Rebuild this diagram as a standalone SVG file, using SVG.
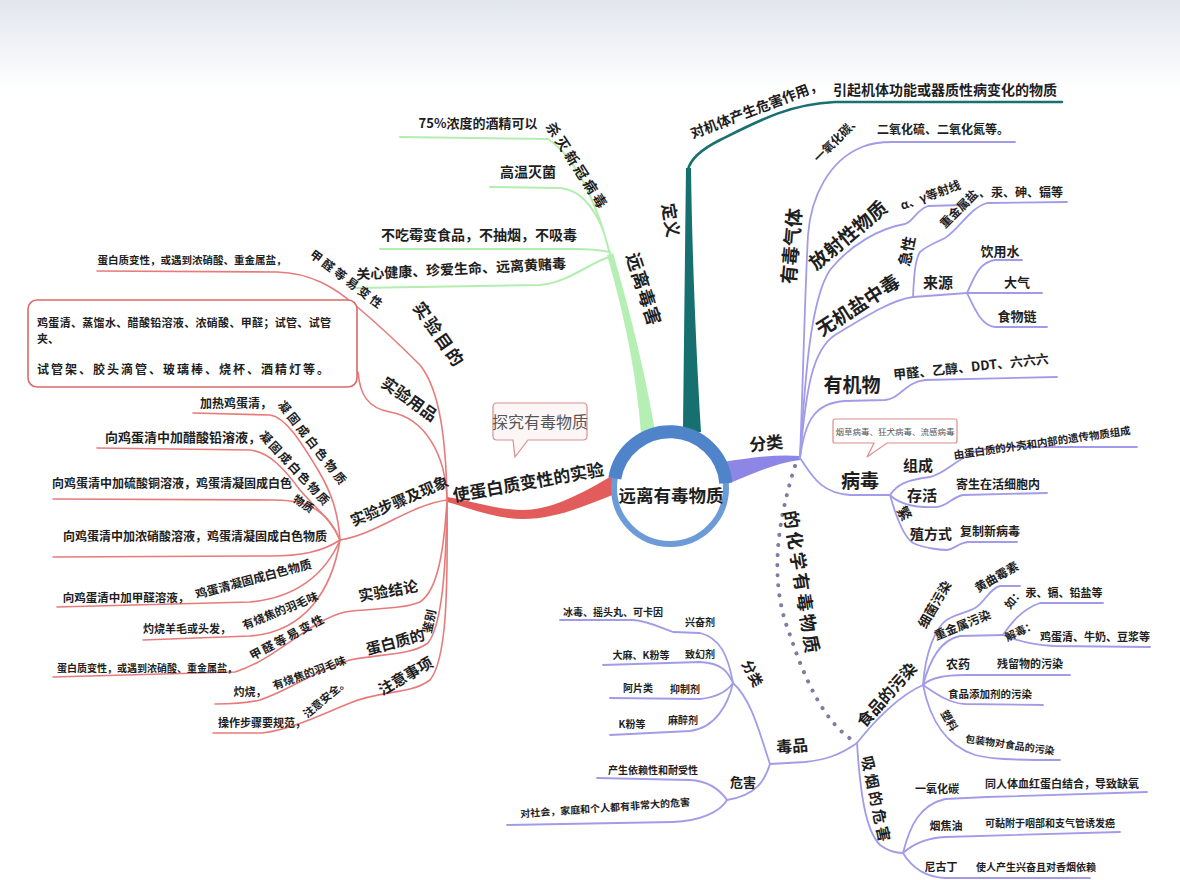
<svg xmlns="http://www.w3.org/2000/svg" width="1180" height="880" viewBox="0 0 1180 880">
<defs>
<linearGradient id="bg" x1="0" y1="0" x2="0" y2="1">
<stop offset="0" stop-color="#e2e6ed"/><stop offset="0.6" stop-color="#f3f5f8"/><stop offset="1" stop-color="#ffffff"/>
</linearGradient>
<style>
.t{font-family:"Noto Sans CJK SC","Noto Sans",sans-serif;font-weight:700;fill:#1e1e1e;text-anchor:middle;dominant-baseline:central}
.l{text-anchor:start}
.n{font-weight:400;fill:#555}
.cg{fill:none;stroke:#b2eeb0;stroke-width:2;stroke-linecap:round}
.ct{fill:none;stroke:#1a7070;stroke-width:2.6;stroke-linecap:round}
.cp{fill:none;stroke:#a29ce8;stroke-width:1.8;stroke-linecap:round}
.cr{fill:none;stroke:#e77b7b;stroke-width:1.6;stroke-linecap:round}
.cd{fill:none;stroke:#7d7da3;stroke-width:4;stroke-linecap:round;stroke-dasharray:0.1 10}
.bub{fill:#fdf6f6;stroke:#d89090;stroke-width:1.2}
</style>
</defs>
<rect width="1180" height="880" fill="#ffffff"/>
<rect width="1180" height="90" fill="url(#bg)"/>

<g id="connectors">
 <path d="M641,433 C637,380 626,320 607,255 L613,253 C632,318 646,378 655,431 Z" fill="#b5efb3"/>
 <path d="M683,434 C684,350 685,250 686,168 L691,168 C692,250 696,350 701,432 Z" fill="#167070"/>
 <path d="M723,462 C750,458 775,454 800,456 L800,460 C775,463 750,475 725,485 Z" fill="#8e86e6"/>
 <path d="M613,475 C580,495 550,510 523,510 C495,510 470,500 447,497 L447,502 C470,508 495,519 523,519 C555,519 585,506 615,494 Z" fill="#e25c5c"/>

 <path class="cg" d="M610,254 C600,215 580,160 548,139 L400,137"/>
 <path class="cg" d="M603,229 C592,205 580,190 560,188 L490,187"/>
 <path class="cg" d="M610,252 C600,250 590,249 575,249 L380,249"/>
 <path class="cg" d="M612,256 C590,262 570,282 540,285 L356,288"/>

 <path class="ct" d="M688,170 C690,160 700,150 720,140 C760,120 790,104 835,102 L1062,102"/>

 <path class="cp" d="M800,458 C803,380 805,290 808,235 C811,195 830,160 862,147 C872,143 880,142 892,142 L1015,142"/>
 <path class="cp" d="M800,458 C805,380 810,300 830,270 C850,245 880,228 905,224 C913,222 916,210 928,206 L962,205"/>
 <path class="cp" d="M800,458 C806,390 812,350 835,335 C860,320 890,300 913,297 L967,293"/>
 <path class="cp" d="M913,297 C914,275 915,260 920,252 C928,245 935,243 945,238 C960,228 970,208 987,203 L1067,202"/>
 <path class="cp" d="M967,293 C975,275 980,262 995,260 L1022,260"/>
 <path class="cp" d="M967,293 L1042,293"/>
 <path class="cp" d="M967,293 C975,310 982,326 995,327 L1047,327"/>
 <path class="cp" d="M800,458 C805,420 815,403 845,401 L885,400 C900,399 905,382 925,380 L1057,377"/>
 <path class="cp" d="M800,458 C812,475 820,493 850,495 L890,495"/>
 <path class="cp" d="M890,495 C897,485 905,480 930,477 C945,474 955,460 975,452 C990,447 1000,447 1013,447 L1137,447"/>
 <path class="cp" d="M890,495 C900,505 915,508 937,507 C948,506 952,497 963,495 L1047,493"/>
 <path class="cp" d="M890,495 C897,520 905,540 915,544 C925,548 940,550 947,550 C955,549 958,543 968,542 L1017,542"/>

 <path class="cd" d="M795,466 C778,520 768,580 790,635 C805,680 825,725 857,743"/>
 <path class="cp" d="M857,743 C840,755 825,760 805,762 L770,764"/>
 <path class="cp" d="M857,743 C875,720 900,695 923,685"/>
 <path class="cp" d="M857,743 C860,790 865,830 880,845 C888,851 895,853 903,853"/>
 <path class="cp" d="M770,764 C760,735 752,700 733,683"/>
 <path class="cp" d="M770,764 C765,780 757,795 727,800"/>
 <path class="cp" d="M733,683 C728,655 720,638 700,633 L673,632 C665,630 650,621 633,620 L560,620"/>
 <path class="cp" d="M733,683 C728,672 722,663 700,662 L603,665"/>
 <path class="cp" d="M733,683 C728,690 720,697 700,699 L610,698"/>
 <path class="cp" d="M733,683 C728,705 715,728 690,731 L610,735"/>
 <path class="cp" d="M727,800 C720,790 710,781 690,780 L597,778"/>
 <path class="cp" d="M727,800 C720,812 700,821 673,822 L507,825"/>
 <path class="cp" d="M923,685 C925,655 935,625 950,618 C960,613 968,612 975,608 C985,602 990,588 1000,586 L1020,586"/>
 <path class="cp" d="M923,685 C930,660 940,640 960,636 L1003,635"/>
 <path class="cp" d="M1003,635 C1010,625 1020,610 1040,603 L1103,603"/>
 <path class="cp" d="M1003,635 C1015,640 1035,645 1053,646 L1150,647"/>
 <path class="cp" d="M923,685 C930,678 945,675 965,675 L1070,675"/>
 <path class="cp" d="M923,685 C935,693 948,703 965,704 L1043,705"/>
 <path class="cp" d="M923,685 C930,720 945,745 975,755 C990,759 1010,760 1060,760"/>
 <path class="cp" d="M903,853 C910,825 920,805 945,799 L987,797 L1147,792"/>
 <path class="cp" d="M903,853 C912,845 925,838 945,837 L1120,832"/>
 <path class="cp" d="M903,853 C912,868 925,877 945,878 L1090,878"/>

 <path class="cr" d="M447,500 C446,440 440,390 420,365 C405,350 380,326 355,305 C335,288 312,273 277,272 L97,271"/>
 <path class="cr" d="M447,500 C446,455 425,418 390,412 C368,408 360,395 358,372"/>
 <path class="cr" d="M447,500 C410,505 375,535 340,540"/>
 <path class="cr" d="M340,540 C338,510 330,490 318,470 C300,440 285,417 270,415 L193,413"/>
 <path class="cr" d="M340,540 C332,520 315,508 300,490 C285,470 270,452 250,450 L97,448"/>
 <path class="cr" d="M340,540 C330,515 312,500 275,500 L53,499"/>
 <path class="cr" d="M340,540 C322,552 300,556 270,556 L53,557"/>
 <path class="cr" d="M340,540 C325,575 295,598 250,602 L57,607"/>
 <path class="cr" d="M340,540 C332,590 305,632 250,636 L143,640"/>
 <path class="cr" d="M447,500 C444,550 438,590 420,602 C400,610 370,608 345,612 C310,620 275,660 235,672 L53,677"/>
 <path class="cr" d="M447,500 C446,570 442,625 428,643 C412,655 380,654 350,660 C320,668 290,690 260,700 C245,704 230,704 215,704"/>
 <path class="cr" d="M447,500 C448,600 446,660 430,680 C410,695 380,690 350,703 C320,715 290,730 262,733 L213,733"/>
</g>

<g id="center">
 <circle cx="670" cy="488" r="56" fill="#ffffff" stroke="#6c9bd8" stroke-width="6"/>
 <path d="M614.8,478.3 A56,56 0 0 1 725.8,483.1" fill="none" stroke="#4f84cb" stroke-width="13"/>
 <text class="t" font-size="17.5" x="671" y="494">远离有毒物质</text>
</g>

<g id="n-green">
 <text class="t" font-size="18" letter-spacing="1" transform="translate(645 289) rotate(72)">远离毒害</text>
 <text class="t" font-size="13" x="478" y="122">75%浓度的酒精可以</text>
 <text class="t" font-size="14" letter-spacing="3" transform="translate(578 166) rotate(57)">杀灭新冠病毒</text>
 <text class="t" font-size="14" x="528" y="171">高温灭菌</text>
 <text class="t" font-size="14" x="479" y="234">不吃霉变食品，不抽烟，不吸毒</text>
 <text class="t" font-size="14" transform="translate(461 268) rotate(-3)">关心健康、珍爱生命、远离黄赌毒</text>
</g>

<g id="n-definition">
 <text class="t" font-size="17" transform="translate(672 220) rotate(80)">定义</text>
 <text class="t" font-size="14" transform="translate(756 108) rotate(-21)">对机体产生危害作用，</text>
 <text class="t" font-size="14" x="945" y="89">引起机体功能或器质性病变化的物质</text>
</g>

<g id="n-classify">
 <text class="t" font-size="17" transform="translate(766 442) rotate(-6)">分类</text>
 <g id="n-gas">
  <text class="t" font-size="19" transform="translate(790 246) rotate(-85)">有毒气体</text>
  <text class="t" font-size="12" transform="translate(836 138) rotate(-45)">一氧化碳、</text>
  <text class="t" font-size="12" x="943" y="128">二氧化硫、二氧化氮等。</text>
 </g>
 <g id="n-radio">
  <text class="t" font-size="19" transform="translate(847 234) rotate(-40)">放射性物质</text>
  <text class="t" font-size="12" transform="translate(930 194) rotate(-20)">α、γ等射线</text>
 </g>
 <g id="n-inorganic">
  <text class="t" font-size="19" transform="translate(857 304) rotate(-33)">无机盐中毒</text>
  <text class="t" font-size="15" transform="translate(906 251) rotate(-78)">急性</text>
  <text class="t" font-size="12" transform="translate(958 208) rotate(-45)">重金属盐</text>
  <text class="t" font-size="12" x="1021" y="191">、汞、砷、镉等</text>
  <text class="t" font-size="15" x="938" y="281">来源</text>
  <text class="t" font-size="13" x="1000" y="250">饮用水</text>
  <text class="t" font-size="13" x="1017" y="281">大气</text>
  <text class="t" font-size="13" x="1017" y="315">食物链</text>
 </g>
 <g id="n-organic">
  <text class="t" font-size="19" x="852" y="383">有机物</text>
  <text class="t" font-size="13" transform="translate(971 366) rotate(-6)">甲醛、乙醇、DDT、六六六</text>
 </g>
 <g id="n-virus">
  <path d="M835,419 H955 Q957,419 957,421 V441 Q957,443 955,443 H887 L867,457 L874,443 H835 Q833,443 833,441 V421 Q833,419 835,419 Z" fill="#ffffff" stroke="#e08c8c" stroke-width="1.2"/>
  <text class="t n" font-size="8.5" x="895" y="431">烟草病毒、狂犬病毒、流感病毒</text>
  <text class="t" font-size="19" x="860" y="479">病毒</text>
  <text class="t" font-size="15" x="918" y="464">组成</text>
  <text class="t" font-size="10.5" transform="translate(1042 442) rotate(-8)">由蛋白质的外壳和内部的遗传物质组成</text>
  <text class="t" font-size="15" x="922" y="494">存活</text>
  <text class="t" font-size="12" x="998" y="483">寄生在活细胞内</text>
  <text class="t" font-size="14" transform="translate(905 513) rotate(60)">繁</text>
  <text class="t" font-size="14" x="931" y="533">殖方式</text>
  <text class="t" font-size="12" x="990" y="530">复制新病毒</text>
 </g>
</g>

<g id="n-common">
 <text class="t" font-size="18" letter-spacing="3" transform="translate(803 583) rotate(81)">的化学有毒物质</text>
 <g id="n-drugs">
  <text class="t" font-size="16" transform="translate(792 745) rotate(-5)">毒品</text>
  <text class="t" font-size="14" transform="translate(753 673) rotate(62)">分类</text>
  <text class="t" font-size="10" x="613" y="611">冰毒、摇头丸、可卡因</text>
  <text class="t" font-size="10" x="700" y="621">兴奋剂</text>
  <text class="t" font-size="10" x="641" y="654">大麻、K粉等</text>
  <text class="t" font-size="10" x="700" y="653">致幻剂</text>
  <text class="t" font-size="10" x="638" y="687">阿片类</text>
  <text class="t" font-size="10" x="685" y="688">抑制剂</text>
  <text class="t" font-size="10" x="632" y="723">K粉等</text>
  <text class="t" font-size="10" x="683" y="719">麻醉剂</text>
  <text class="t" font-size="13" x="743" y="781">危害</text>
  <text class="t" font-size="10" x="653" y="769">产生依赖性和耐受性</text>
  <text class="t" font-size="10" transform="translate(605 807) rotate(-4)">对社会，家庭和个人都有非常大的危害</text>
 </g>
 <g id="n-food">
  <text class="t" font-size="16" transform="translate(886 694) rotate(-48)">食品的污染</text>
  <text class="t" font-size="13" transform="translate(934 604) rotate(-60)">细菌污染</text>
  <text class="t" font-size="12" transform="translate(996 576) rotate(-30)">黄曲霉素</text>
  <text class="t" font-size="12" transform="translate(962 624) rotate(-22)">重金属污染</text>
  <text class="t" font-size="11" transform="translate(1013 598) rotate(-50)">如：</text>
  <text class="t" font-size="11" x="1064" y="592">汞、镉、铅盐等</text>
  <text class="t" font-size="11" transform="translate(1020 630) rotate(-25)">解毒：</text>
  <text class="t" font-size="11" x="1095" y="636">鸡蛋清、牛奶、豆浆等</text>
  <text class="t" font-size="12" x="958" y="663">农药</text>
  <text class="t" font-size="11" x="1030" y="663">残留物的污染</text>
  <text class="t" font-size="10.5" x="990" y="693">食品添加剂的污染</text>
  <text class="t" font-size="11" transform="translate(950 720) rotate(60)">塑料</text>
  <text class="t" font-size="10" transform="translate(1010 744) rotate(8)">包装物对食品的污染</text>
 </g>
 <g id="n-smoke">
  <text class="t" font-size="15" letter-spacing="3" transform="translate(877 800) rotate(78)">吸烟的危害</text>
  <text class="t" font-size="11" x="937" y="788">一氧化碳</text>
  <text class="t" font-size="11" x="1062" y="783">同人体血红蛋白结合，导致缺氧</text>
  <text class="t" font-size="11" x="946" y="825">烟焦油</text>
  <text class="t" font-size="10" x="1050" y="822">可黏附于咽部和支气管诱发癌</text>
  <text class="t" font-size="11" x="941" y="866">尼古丁</text>
  <text class="t" font-size="10" x="1036" y="866">使人产生兴奋且对香烟依赖</text>
 </g>
</g>

<g id="n-experiment">
 <text class="t" font-size="17" transform="translate(528 481) rotate(-10)">使蛋白质变性的实验</text>
 <path class="bub" d="M497,403 H583 Q587,403 587,407 V436 Q587,440 583,440 H528 L515,457 L513,440 H497 Q493,440 493,436 V407 Q493,403 497,403 Z"/>
 <text class="t n" font-size="16" x="540" y="421">探究有毒物质</text>
 <g id="n-purpose">
  <text class="t" font-size="17" letter-spacing="2" transform="translate(440 334) rotate(55)">实验目的</text>
  <text class="t" font-size="10.5" x="192" y="259">蛋白质变性，或遇到浓硝酸、重金属盐，</text>
  <text class="t" font-size="12" letter-spacing="3" transform="translate(348 279) rotate(37)">甲醛等易变性</text>
 </g>
 <g id="n-items">
  <rect x="28" y="300" width="329" height="87" rx="9" fill="#ffffff" stroke="#d96a6a" stroke-width="1.6"/>
  <text class="t l" font-size="11" x="37" y="322" textLength="294" lengthAdjust="spacing">鸡蛋清、蒸馏水、醋酸铅溶液、浓硝酸、甲醛；试管、试管</text>
  <text class="t l" font-size="11" x="37" y="338">夹、</text>
  <text class="t l" font-size="12" x="37" y="368" textLength="292" lengthAdjust="spacing">试管架、胶头滴管、玻璃棒、烧杯、酒精灯等。</text>
  <text class="t" font-size="16" transform="translate(410 398) rotate(35)">实验用品</text>
 </g>
 <g id="n-steps">
  <text class="t" font-size="15" transform="translate(399 500) rotate(-23)">实验步骤及现象</text>
  <text class="t" font-size="12" x="236" y="402">加热鸡蛋清，</text>
  <text class="t" font-size="12" letter-spacing="3" transform="translate(314 443) rotate(52)">凝固成白色物质</text>
  <text class="t" font-size="13" x="183" y="436">向鸡蛋清中加醋酸铅溶液，</text>
  <text class="t" font-size="12" letter-spacing="2" transform="translate(296 468) rotate(47)">凝固成白色物质</text>
  <text class="t" font-size="12" x="172" y="482">向鸡蛋清中加硫酸铜溶液，鸡蛋清凝固成白色</text>
  <text class="t" font-size="11" transform="translate(304 503) rotate(35)">物质</text>
  <text class="t" font-size="12" x="195" y="535">向鸡蛋清中加浓硝酸溶液，鸡蛋清凝固成白色物质</text>
  <text class="t" font-size="11.5" x="126" y="597">向鸡蛋清中加甲醛溶液，</text>
  <text class="t" font-size="12" transform="translate(253 578) rotate(-15)">鸡蛋清凝固成白色物质</text>
  <text class="t" font-size="11" x="187" y="628">灼烧羊毛或头发，</text>
  <text class="t" font-size="11.5" transform="translate(280 610) rotate(-22)">有烧焦的羽毛味</text>
 </g>
 <g id="n-conclusion">
  <text class="t" font-size="15" transform="translate(388 590) rotate(-10)">实验结论</text>
  <text class="t" font-size="10" x="147" y="667">蛋白质变性，或遇到浓硝酸、重金属盐，</text>
  <text class="t" font-size="12" letter-spacing="2" transform="translate(287 636) rotate(-28)">甲醛等易变性</text>
 </g>
 <g id="n-identify">
  <text class="t" font-size="15" transform="translate(395 641) rotate(-15)">蛋白质的</text>
  <text class="t" font-size="12" transform="translate(428 621) rotate(-78)">鉴别</text>
  <text class="t" font-size="11" x="250" y="691">灼烧，</text>
  <text class="t" font-size="11" transform="translate(309 672) rotate(-20)">有烧焦的羽毛味</text>
 </g>
 <g id="n-notes">
  <text class="t" font-size="15" transform="translate(405 675) rotate(-30)">注意事项</text>
  <text class="t" font-size="11" x="262" y="722">操作步骤要规范，</text>
  <text class="t" font-size="11" transform="translate(325 697) rotate(-40)">注意安全。</text>
 </g>
</g>
</svg>
